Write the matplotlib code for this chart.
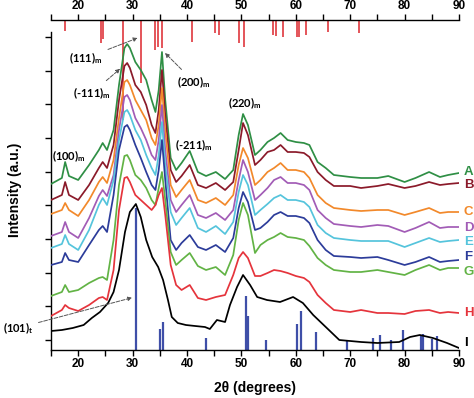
import matplotlib
matplotlib.use("Agg")
import matplotlib.pyplot as plt

plt.rcParams['font.family'] = ['Liberation Sans', 'DejaVu Sans']
plt.rcParams['mathtext.fontset'] = 'custom'
plt.rcParams['mathtext.rm'] = 'Lato:bold'
plt.rcParams['mathtext.bf'] = 'Lato:bold'

# ---------------- data ----------------
two_theta = [15, 17.0, 17.6, 18.3, 20, 22, 23.8, 24.5, 25.3, 26.5,
             27.5, 28.5, 29.0, 29.5, 30.5, 31.5, 32.5, 33.5, 34.2, 34.8,
             35.4, 36.0, 37, 38, 39, 40.5, 42, 43.5, 45.3, 47,
             48.5, 49.5, 50.3, 51.2, 52.5, 53.5, 54.8, 56, 57.2, 58.5,
             60, 61.5, 62.5, 64, 65.5, 67, 70, 72, 75, 77,
             80, 82, 84.5, 86.5, 88, 90]

int_A = [166, 172, 188, 174, 170, 185, 200, 207, 200, 220,
         265, 302, 306, 302, 288, 280, 270, 250, 238, 260,
         298, 250, 192, 180, 187, 199, 178, 174, 178, 171,
         180, 215, 236, 225, 195, 200, 208, 212, 217, 210,
         208, 207, 205, 188, 182, 175, 173, 172, 172, 174,
         168, 172, 178, 173, 175, 177]
int_B = [150, 155, 168, 155, 150, 165, 182, 188, 182, 205,
         250, 284, 287, 282, 265, 258, 245, 225, 217, 240,
         280, 235, 180, 168, 174, 185, 165, 162, 167, 160,
         168, 200, 227, 215, 185, 190, 198, 200, 205, 198,
         198, 197, 193, 178, 170, 164, 164, 162, 164, 166,
         162, 164, 168, 165, 166, 167]
int_C = [136, 140, 147, 140, 134, 150, 168, 173, 167, 190,
         232, 268, 270, 265, 250, 240, 230, 212, 205, 225,
         262, 220, 165, 153, 160, 170, 150, 147, 152, 145,
         155, 185, 202, 192, 165, 170, 178, 182, 187, 180,
         180, 178, 172, 155, 147, 142, 140, 139, 140, 140,
         135, 138, 142, 137, 138, 138]
int_D = [114, 118, 128, 118, 112, 132, 154, 160, 154, 175,
         220, 253, 255, 250, 232, 222, 210, 195, 190, 210,
         245, 200, 150, 138, 145, 155, 135, 132, 137, 130,
         140, 170, 190, 178, 150, 155, 162, 170, 173, 167,
         167, 165, 160, 140, 132, 126, 124, 123, 125, 124,
         118, 122, 128, 122, 123, 123]
int_E = [102, 106, 115, 106, 100, 120, 145, 152, 145, 170,
         210, 238, 240, 235, 220, 210, 195, 182, 175, 195,
         228, 185, 138, 125, 132, 142, 122, 118, 124, 116,
         128, 158, 175, 165, 135, 140, 146, 152, 155, 150,
         150, 148, 143, 125, 117, 112, 110, 109, 109, 109,
         103, 107, 112, 108, 109, 110]
int_F = [85, 88, 97, 90, 88, 105, 120, 124, 118, 155,
         200, 223, 225, 220, 205, 192, 178, 165, 160, 180,
         210, 170, 110, 100, 107, 115, 103, 100, 105, 98,
         112, 142, 158, 148, 120, 122, 128, 135, 138, 134,
         134, 132, 127, 110, 100, 94, 93, 92, 93, 90,
         85, 88, 93, 88, 89, 90]
int_G = [54, 58, 65, 58, 60, 67, 72, 73, 70, 110,
         165, 194, 195, 190, 175, 170, 162, 150, 145, 162,
         178, 150, 98, 85, 90, 97, 84, 80, 83, 75,
         95, 130, 147, 135, 97, 105, 110, 113, 117, 113,
         112, 110, 104, 92, 85, 80, 78, 78, 80, 78,
         75, 80, 85, 80, 82, 82]
int_H = [34, 40, 45, 42, 39, 45, 52, 53, 50, 80,
         140, 172, 173, 168, 155, 150, 145, 140, 145, 155,
         162, 135, 85, 65, 60, 65, 52, 50, 53, 55,
         75, 92, 98, 92, 74, 74, 77, 80, 79, 77,
         74, 72, 68, 55, 47, 40, 38, 40, 37, 37,
         36, 39, 40, 37, 38, 37]

two_theta_I = [15, 17, 19, 21, 22.5, 24, 25.5, 26.5, 27.5, 28.6,
               29.5, 30.6, 31.5, 32.5, 33.6, 34.7, 35.6, 36.5, 37.2, 38.3,
               39.8, 41.5, 43.3, 44.2, 45.5, 47, 47.9, 49.2, 50.3, 51.6,
               52.9, 54.7, 57.1, 59.5, 61.3, 63.2, 65.7, 68, 72, 75,
               79, 81, 82.8, 85.2, 87.8, 90]
int_I = [19, 20, 22, 25, 32, 38, 47, 58, 80, 118,
         138, 146, 133, 110, 93, 83, 70, 50, 33, 27,
         25, 24, 23, 21, 30, 28, 45, 63, 75, 65,
         53, 50, 48, 53, 47, 35, 22, 10, 8, 7,
         8, 13, 15, 12, 7, 2]

series_names = ['A', 'B', 'C', 'D', 'E', 'F', 'G', 'H', 'I']
series_colors = ['#2f8f45', '#8b1a2a', '#f2892b', '#a25cb6', '#55c4dc',
                 '#2c3c9a', '#62b345', '#e5343c', '#000000']
label_levels = [178, 165, 138, 122, 108, 93, 78, 37, 7]

# monoclinic reference (hanging from top axis)
ref_m_pos = [17.6, 24.2, 24.6, 28.3, 31.6, 34.2, 34.6, 35.4, 41.0, 45.1, 45.9,
             49.6, 50.5, 55.9, 56.4, 57.6, 60.3, 60.5, 61.8, 66.0, 71.7]
ref_m_len = [11, 23, 19, 100, 63, 30, 27, 28, 22, 13, 15,
             23, 27, 15, 16, 17, 17, 17, 15, 12, 13]
# tetragonal reference (rising from bottom axis)
ref_t_pos = [30.6, 35.0, 35.6, 43.5, 50.8, 51.3, 54.5, 60.2, 60.9, 63.7,
             69.5, 74.2, 75.5, 77.5, 79.7, 83.0, 83.4, 85.0, 86.0]
ref_t_len = [142, 21, 28, 12, 54, 34, 10, 26, 39, 18,
             10, 12, 15, 10, 20, 15, 16, 11, 14]

x_ticks = [20, 30, 40, 50, 60, 70, 80, 90]

# ---------------- figure ----------------
W, H = 474, 398
fig = plt.figure(figsize=(W / 100, H / 100), dpi=100)
ax = fig.add_axes([51 / W, 48 / H, 408 / W, 330 / H])
ax.set_xlim(15, 90)
ax.set_ylim(0, 330)

ymax = 330
ax.vlines(ref_m_pos, [ymax - l for l in ref_m_len], ymax, colors='#e2474c', lw=1.3, zorder=1)
ax.vlines(ref_t_pos, 0, ref_t_len, colors='#3f4fa8', lw=1.6, zorder=1)

curves = [int_A, int_B, int_C, int_D, int_E, int_F, int_G, int_H]
for col, ys in zip(series_colors[:8], curves):
    ax.plot(two_theta, ys, color=col, lw=1.25, zorder=3)
ax.plot(two_theta_I, int_I, color=series_colors[8], lw=1.25, zorder=3)

for name, col, yl in zip(series_names, series_colors, label_levels):
    ax.text(90.9, yl, name, color=col, fontsize=9.5, fontweight='bold',
            ha='left', va='center', clip_on=False)

# annotations
ann_kw = dict(fontsize=8, fontfamily='Lato', fontweight='bold', ha='center', va='center')
arrow_kw = dict(arrowstyle='-|>', color='#555555', lw=0.7, mutation_scale=6, linestyle=(0, (4, 1.5)))
ax.text(18.3, 194, r'(100)$_{\mathrm{m}}$', **ann_kw)
ax.text(41.3, 205, r'(-211)$_{\mathrm{m}}$', **ann_kw)
ax.text(50.7, 247, r'(220)$_{\mathrm{m}}$', **ann_kw)
ax.annotate(r'(111)$_{\mathrm{m}}$', xy=(31.4, 313), xytext=(21.4, 292),
            arrowprops=arrow_kw, **ann_kw)
ax.annotate(r'(-111)$_{\mathrm{m}}$', xy=(28.1, 283), xytext=(22.5, 257),
            arrowprops=arrow_kw, **ann_kw)
ax.annotate(r'(200)$_{\mathrm{m}}$', xy=(35.6, 299), xytext=(41.3, 268),
            arrowprops=arrow_kw, **ann_kw)
ax.annotate(r'(101)$_{\mathrm{t}}$', xy=(30.4, 53), xytext=(8.9, 22),
            arrowprops=arrow_kw, annotation_clip=False, **ann_kw)

# axes styling
ax.spines['right'].set_visible(False)
ax.spines['left'].set_bounds(0, 318)
for s in ['left', 'top', 'bottom']:
    ax.spines[s].set_linewidth(1.0)
ax.set_xticks(x_ticks)
ax.set_xticks([15, 25, 35, 45, 55, 65, 75, 85], minor=True)
ax.tick_params(axis='x', which='both', direction='out', top=True, bottom=True,
               labeltop=True, labelbottom=True, length=4, width=1, pad=2)
ax.set_yticks([10 + 33.67 * k for k in range(10)])
ax.tick_params(axis='y', which='both', direction='out', length=4, width=1, labelleft=False)
for lab in ax.get_xticklabels():
    lab.set_fontweight('bold')
    lab.set_fontsize(8.5)

fig.text(255 / W, 1 - 388 / H, '2θ (degrees)', fontsize=10, fontweight='bold',
         ha='center', va='center')
fig.text(15 / W, 1 - 190 / H, 'Intensity (a.u.)', fontsize=10, fontweight='bold',
         ha='center', va='center', rotation=90)

fig.savefig('out.png', dpi=100)
